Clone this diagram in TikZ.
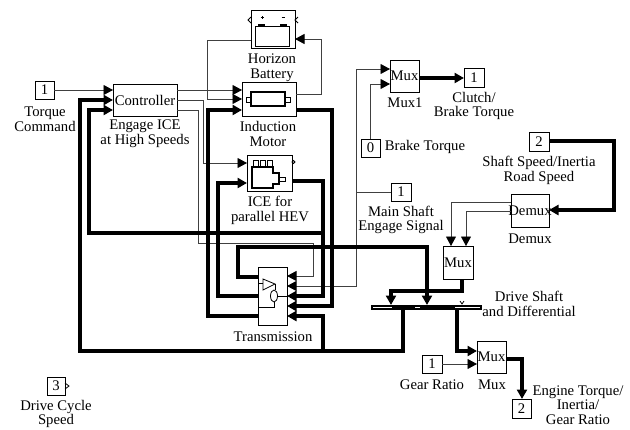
\documentclass[tikz,border=0pt]{standalone}
\usepackage{fontspec}
\setmainfont{Liberation Serif}
\usetikzlibrary{arrows.meta}
\tikzset{
  every node/.style={font=\fontsize{14.7}{14.8}\selectfont,inner sep=0pt,outer sep=0pt},
  blockbox/.style={draw,line width=0.8pt,fill=white,anchor=north west},
  txt/.style={align=center,anchor=center},
  thin wire/.style={line width=0.8pt,line join=miter,draw=black!75},
  thick wire/.style={line width=4.8pt,line join=miter},
  head/.style={-{Triangle[length=9.5pt,width=10pt,color=black,fill=black]}},
  icon/.style={line width=0.8pt}
}
\newcommand{\blk}[6]{\node[blockbox,minimum width=#4 pt,minimum height=#5 pt] (#1) at (#2,#3) {#6};}
\begin{document}
\begin{tikzpicture}[x=1pt,y=-1pt]
\useasboundingbox (0,0) rectangle (630,429);
% blocks
\blk{torque}{35}{81}{19}{18}{1}
\blk{ctrl}{113}{84}{64}{32}{Controller}
\blk{batt}{251}{10}{44}{38}{}
\blk{motor}{242}{82}{54}{34}{}
\blk{ice}{247}{155}{45}{36}{}
\blk{trans}{258}{267}{29}{58}{}
\blk{muxa}{390}{60}{29}{32}{\makebox[0pt]{Mux}}
\blk{clutch}{464}{68}{20}{19}{1}
\blk{brake}{361}{139}{19}{18}{0}
\blk{engage}{391}{183}{20}{18}{1}
\blk{shaftin}{529}{132}{20}{19}{2}
\blk{demux}{511}{194}{38}{33}{\makebox[0pt]{Demux}}
\blk{muxb}{443}{246}{30}{33}{\makebox[0pt]{Mux}}
\node[anchor=north west,fill=black,minimum width=111pt,minimum height=5pt] (shaft) at (371,305) {};
\blk{muxc}{477}{341}{29}{32}{\makebox[0pt]{Mux}}
\blk{gear}{422}{355}{20}{18}{1}
\blk{engout}{512}{399}{19}{19}{2}
\blk{drive}{47}{377}{18}{18}{3}
% labels
\node[txt] (l1) at (45,119) {Torque\\Command};
\node[txt] (l2) at (145,134) {Engage ICE\\at High Speeds};
\node[txt] (l3) at (272,68) {Horizon\\Battery};
\node[txt] (l4) at (268,134) {Induction\\Motor};
\node[txt] (l5) at (270,210) {ICE for\\parallel HEV};
\node[txt] (l6) at (273,337) {Transmission};
\node[txt] (l7) at (405,103) {Mux1};
\node[txt] (l8) at (474,106) {Clutch/\\Brake Torque};
\node[txt] (l9) at (425,147) {Brake Torque};
\node[txt] (l10) at (539,170) {Shaft Speed/Inertia\\Road Speed};
\node[txt] (l11) at (401,220) {Main Shaft\\Engage Signal};
\node[txt] (l12) at (530,239) {Demux};
\node[txt] (l13) at (529,304) {Drive Shaft\\and Differential};
\node[txt] (l14) at (432,385) {Gear Ratio};
\node[txt] (l15) at (492,385) {Mux};
\node[txt] (l16) at (578,405) {Engine Torque/\\Inertia/\\Gear Ratio};
\node[txt] (l17) at (56,414) {Drive Cycle\\Speed};
% thin connectors
\draw[thin wire,head] (torque.east|-0,90) -- (ctrl.west|-0,90);
\draw[thin wire,head] (ctrl.east|-0,90) -- (motor.west|-0,90);
\draw[thin wire,head] (ctrl.east|-0,100) -- (203,100) -- (203,163) -- (ice.west|-0,163);
\draw[thin wire,head] (ctrl.east|-0,110) -- (198,110) -- (198,243) -- (313,243) -- (313,276) -- (trans.east|-0,276);
\draw[thin wire,head] (motor.east|-0,94) -- (321,94) -- (321,39) -- (batt.east|-0,39);
\draw[thin wire,head] (batt.west|-0,40) -- (207,40) -- (207,99) -- (motor.west|-0,99);
\draw[thin wire,head] (engage.west|-0,192) -- (356,192) -- (356,69) -- (muxa.west|-0,69);
\draw[thin wire,head] (356,192) -- (356,286) -- (trans.east|-0,286);
\draw[thin wire,head] (brake.north) -- (brake.north|-0,84) -- (muxa.west|-0,84);
\draw[thin wire,head] (demux.west|-0,202) -- (451,202) -- (451,246);
\draw[thin wire,head] (demux.west|-0,211) -- (466,211) -- (466,246);
\draw[thin wire,head] (gear.east|-0,364) -- (muxc.west|-0,364);
% thick connectors
\draw[thick wire,head] (muxa.east|-0,78) -- (clutch.west|-0,78);
\draw[thick wire,head] (shaftin.east|-0,141) -- (614,141) -- (614,210) -- (demux.east|-0,210);
\draw[thick wire,head] (muxb.south-|462,0) -- (462,291) -- (391,291) -- (391,305);
\draw[thick wire,head] (trans.west|-0,277) -- (238,277) -- (238,247) -- (427,247) -- (427,305);
\draw[thick wire,head] (ice.east|-0,181) -- (323,181) -- (323,296) -- (trans.east|-0,296);
\draw[thick wire,head] (motor.east|-0,110) -- (332,110) -- (332,306) -- (trans.east|-0,306);
\draw[thick wire,head] (trans.west|-0,316) -- (208,316) -- (208,110) -- (motor.west|-0,110);
\draw[thick wire,head] (trans.west|-0,296) -- (218,296) -- (218,183) -- (ice.west|-0,183);
\draw[thick wire,head] (403,310) -- (403,351) -- (80,351) -- (80,100) -- (ctrl.west|-0,100);
\draw[thick wire,head] (323,235) -- (323,233) -- (89,233) -- (89,110) -- (ctrl.west|-0,110);
\draw[thick wire,head] (323,351) -- (323,316) -- (trans.east|-0,316);
\draw[thick wire,head] (457,310) -- (457,351) -- (muxc.west|-0,351);
\draw[thick wire,head] (muxc.east|-0,359) -- (522,359) -- (522,399);
% shaft details
\draw[white,line width=0.5pt] (373,307) -- (392,307) (415,307) -- (420,307) (455,307) -- (480,307);
\draw[icon] (460,301) -- (462,304) -- (464,301);
% battery icon
\draw[icon] (255,26) rectangle (289,46);
\draw[line width=1.8pt] (258,25) -- (265,25) (280,25) -- (287,25);
\draw[icon] (260.5,17.5) -- (263.5,17.5) (262,16) -- (262,19) (281.5,17.5) -- (285,17.5);
\draw[icon] (251,17) -- (248,20) -- (251,23);
\draw[icon] (298,17) -- (295,20) -- (298,23);
% motor icon
\draw[line width=1.2pt] (251,92) rectangle (285,106);
\draw[icon] (246,97) rectangle (251,102) (285,97) rectangle (290,102);
% ICE icon
\draw[line width=1.1pt] (252,167) -- (273,167) -- (273,173) -- (279,173) -- (279,184) -- (273,184) -- (273,188) -- (252,188) -- cycle;
\draw[icon] (253.5,167) -- (253.5,160.5) -- (258,160.5) -- (258,167)
            (260,167) -- (260,160.5) -- (265,160.5) -- (265,167)
            (267,167) -- (267,160.5) -- (272,160.5) -- (272,167);
\draw[icon] (279,177) rectangle (285,181);
\draw[icon] (293.5,162) circle (1.5);
% transmission icon
\draw[icon] (263,279) -- (263,290) -- (275,284) -- cycle;
\draw[icon] (258,283) -- (263,283) (275,284) -- (275,290);
\draw[icon] (274,296) ellipse (3.5 and 6);
\draw[icon] (277.5,296) -- (287,296) (274,302) -- (274,307) -- (258,307);
% drive-cycle inport tip
\draw[icon] (65,383) -- (69,386) -- (65,389);
\end{tikzpicture}
\end{document}
